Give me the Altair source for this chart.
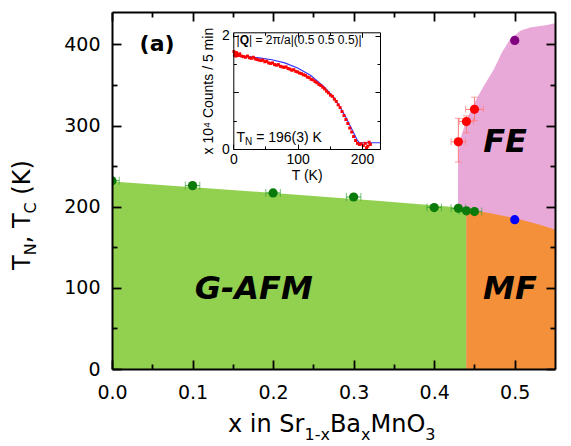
import altair as alt
import pandas as pd

# ---------------- main phase-diagram data ----------------
afm_x = [0.0, 0.1, 0.2, 0.3, 0.4, 0.43, 0.44, 0.45]
afm_T = [232, 226, 217, 212, 199, 198, 195, 194]
afm_xerr = [0.009, 0.009, 0.009, 0.009, 0.009, 0.009, 0.009, 0.009]

fe_x = [0.43, 0.44, 0.45]
fe_T = [280, 305, 320]
fe_Tlo = [255, 291, 306]
fe_Thi = [309, 312, 335]
fe_xerr = [0.009, 0.009, 0.011]

mf_x = [0.5]
mf_T = [184]
feh_x = [0.5]
feh_T = [405]

green_x = [0.0, 0.2, 0.333, 0.42, 0.44]
green_top = [231, 217, 207, 200, 196]
orange_x = [0.44, 0.47, 0.5, 0.53, 0.55]
orange_top = [197, 192, 186, 178, 172]
pink_x = [0.4295, 0.4296, 0.432, 0.44, 0.451, 0.461, 0.474, 0.484, 0.494, 0.507, 0.519, 0.54, 0.55]
pink_top = [150, 258, 282, 307, 330, 348, 369, 390, 406, 417, 421, 424, 426]

region_names = ["G-AFM", "MF", "FE"]
region_x = [0.176, 0.494, 0.488]
region_y = [99, 99, 280]

x_ticks = [0.0, 0.1, 0.2, 0.3, 0.4, 0.5]
x_minor = [0.05, 0.15, 0.25, 0.35, 0.45]
y_ticks = [0, 100, 200, 300, 400]
y_minor = [50, 150, 250, 350]

# ---------------- inset data ----------------
ins_T = [1, 2, 3, 4, 5, 6, 8, 10, 13, 16, 19, 22, 25, 28, 31, 34, 37, 40, 43, 46, 49, 52, 55, 58,
         61, 64, 67, 70, 73, 76, 79, 82, 85, 88, 91, 94, 97, 100, 103, 106, 109, 112, 115, 118,
         121, 124, 127, 130, 133, 136, 139, 142, 145, 148, 151, 154, 157, 160, 163, 166, 169,
         172, 175, 178, 181, 184, 187, 190, 193, 196, 199, 202, 205, 207, 209, 211, 213]
ins_I = [1.72, 1.66, 1.69, 1.64, 1.70, 1.67, 1.65, 1.68, 1.64, 1.63, 1.62, 1.64, 1.61, 1.60, 1.62,
         1.59, 1.58, 1.57, 1.56, 1.57, 1.54, 1.55, 1.52, 1.51, 1.52, 1.49, 1.48, 1.49, 1.46, 1.45,
         1.44, 1.45, 1.42, 1.41, 1.39, 1.40, 1.37, 1.36, 1.34, 1.33, 1.31, 1.30, 1.27, 1.26, 1.23,
         1.22, 1.19, 1.17, 1.14, 1.12, 1.09, 1.06, 1.02, 0.99, 0.95, 0.93, 0.88, 0.84, 0.78, 0.73,
         0.66, 0.59, 0.52, 0.45, 0.37, 0.30, 0.22, 0.15, 0.10, 0.08, 0.09, 0.06, 0.10, 0.02, 0.05,
         0.12, 0.08]
fit_T = [0, 20, 40, 60, 80, 100, 120, 140, 155, 165, 175, 185, 192, 196, 228]
fit_I = [1.64, 1.635, 1.61, 1.575, 1.52, 1.43, 1.30, 1.11, 0.93, 0.76, 0.56, 0.33, 0.17, 0.11, 0.11]
ins_x_ticks = [0, 100, 200]
ins_x_minor = [50, 150]
ins_y_ticks = [0, 1, 2]
ins_y_minor = [0.5, 1.5]

# ---------------- layout / style ----------------
W, H = 443, 357
PINK, GREEN, ORANGE = "#e9a9d8", "#92d050", "#f4903a"
MAINF = "DejaVu Sans"
INSF = "Liberation Sans"

xs = alt.Scale(domain=[0, 0.55], nice=False, zero=False)
ys = alt.Scale(domain=[0, 440], nice=False, zero=False)
IX0, IX1, IYB, IYT = 121.3, 268, 137, 20.3
ixs = alt.Scale(domain=[0, 228], range=[IX0, IX1], nice=False, zero=False)
iys = alt.Scale(domain=[0, 2.06], range=[IYB, IYT], nice=False, zero=False)


def X(f, s=xs):
    return alt.X(f, scale=s, axis=None, title=None)


def Y(f, s=ys):
    return alt.Y(f, scale=s, axis=None, title=None)


layers = []

# regions
layers.append(alt.Chart(pd.DataFrame({"x": pink_x, "T": pink_top})).mark_area(color=PINK, clip=True)
              .encode(x=X("x:Q"), y=Y("T:Q"), y2=alt.datum(0)))
layers.append(alt.Chart(pd.DataFrame({"x": green_x, "T": green_top})).mark_area(color=GREEN, clip=True)
              .encode(x=X("x:Q"), y=Y("T:Q"), y2=alt.datum(0)))
layers.append(alt.Chart(pd.DataFrame({"x": orange_x, "T": orange_top})).mark_area(color=ORANGE, clip=True)
              .encode(x=X("x:Q"), y=Y("T:Q"), y2=alt.datum(0)))

# AFM points with horizontal error bars
afm = pd.DataFrame({"x": afm_x, "T": afm_T,
                    "xlo": [a - e for a, e in zip(afm_x, afm_xerr)],
                    "xhi": [a + e for a, e in zip(afm_x, afm_xerr)]})
EG = "#3aa63a"
layers.append(alt.Chart(afm).mark_rule(color=EG, strokeWidth=1, clip=True)
              .encode(x=X("xlo:Q"), x2="xhi:Q", y=Y("T:Q")))
for col in ["xlo", "xhi"]:
    layers.append(alt.Chart(afm).mark_tick(color=EG, orient="vertical", size=8, thickness=1, clip=True)
                  .encode(x=X(col + ":Q"), y=Y("T:Q")))
layers.append(alt.Chart(afm).mark_circle(color="#0a7a0a", size=85, opacity=1, clip=True)
              .encode(x=X("x:Q"), y=Y("T:Q")))

# FE points with error bars
fe = pd.DataFrame({"x": fe_x, "T": fe_T, "Tlo": fe_Tlo, "Thi": fe_Thi,
                   "xlo": [a - e for a, e in zip(fe_x, fe_xerr)],
                   "xhi": [a + e for a, e in zip(fe_x, fe_xerr)]})
ER = "#ff7a7a"
layers.append(alt.Chart(fe).mark_rule(color=ER, strokeWidth=1)
              .encode(x=X("xlo:Q"), x2="xhi:Q", y=Y("T:Q")))
layers.append(alt.Chart(fe).mark_rule(color=ER, strokeWidth=1)
              .encode(x=X("x:Q"), y=Y("Tlo:Q"), y2="Thi:Q"))
for col in ["xlo", "xhi"]:
    layers.append(alt.Chart(fe).mark_tick(color=ER, orient="vertical", size=7, thickness=1)
                  .encode(x=X(col + ":Q"), y=Y("T:Q")))
for col in ["Tlo", "Thi"]:
    layers.append(alt.Chart(fe).mark_tick(color=ER, orient="horizontal", size=7, thickness=1)
                  .encode(x=X("x:Q"), y=Y(col + ":Q")))
layers.append(alt.Chart(fe).mark_circle(color="#ff0000", size=85, opacity=1)
              .encode(x=X("x:Q"), y=Y("T:Q")))
layers.append(alt.Chart(pd.DataFrame({"x": mf_x, "T": mf_T})).mark_circle(color="#0000ff", size=85, opacity=1)
              .encode(x=X("x:Q"), y=Y("T:Q")))
layers.append(alt.Chart(pd.DataFrame({"x": feh_x, "T": feh_T})).mark_circle(color="#800080", size=85, opacity=1)
              .encode(x=X("x:Q"), y=Y("T:Q")))

# region labels
layers.append(alt.Chart(pd.DataFrame({"x": region_x, "T": region_y, "t": region_names}))
              .mark_text(font=MAINF, fontSize=32, fontWeight="bold", fontStyle="italic", color="black",
                         align="center", baseline="middle")
              .encode(x=X("x:Q"), y=Y("T:Q"), text="t:N"))
layers.append(alt.Chart(pd.DataFrame({"x": [0.056], "T": [400], "t": ["(a)"]}))
              .mark_text(font=MAINF, fontSize=22, fontWeight="bold", color="black",
                         align="center", baseline="middle")
              .encode(x=X("x:Q"), y=Y("T:Q"), text="t:N"))

# ---------------- inset ----------------
layers.append(alt.Chart(pd.DataFrame({"T": fit_T, "I": fit_I})).mark_line(color="#3333ff", strokeWidth=1.2)
              .encode(x=X("T:Q", ixs), y=Y("I:Q", iys)))
layers.append(alt.Chart(pd.DataFrame({"T": ins_T, "I": ins_I})).mark_square(color="#ff0000", size=9, opacity=1)
              .encode(x=X("T:Q", ixs), y=Y("I:Q", iys)))

# text made of pieces (sub/superscripts, bold letters)
DJ = {" ": .318, "(": .390, ")": .390, ",": .318, "T": .611, "N": .748, "C": .698,
      "K": .656, "x": .592, "i": .278, "n": .634, "S": .635, "r": .411, "1": .636, "-": .361,
      "B": .686, "a": .613, "M": .863, "O": .787, "3": .636}
AR = {" ": .278, "T": .611, "N": .722, "=": .584, "(": .333, ")": .333, "K": .667,
      "|": .26, "Q": .778, "1": .556, "9": .556, "6": .556, "3": .556}


def width(s, size, table):
    return sum(table.get(c, 0.6) for c in s) * size


def piece_layers(items, x0, y0, font, table, rotate=False, data_pos=None):
    out = []
    cum = 0.0
    for text, size, shift, weight in items:
        lead = len(text) - len(text.lstrip(" "))
        cum += width(" " * lead, size, table)
        text = text.lstrip(" ")
        if data_pos is None:
            if rotate:
                enc = dict(x=alt.value(x0 + shift), y=alt.value(y0 - cum))
            else:
                enc = dict(x=alt.value(x0 + cum), y=alt.value(y0 + shift))
            mk = alt.Chart(pd.DataFrame({"k": [0]})).mark_text(
                text=text, font=font, fontSize=size, fontWeight=weight, color="black",
                align="left", baseline="alphabetic", angle=270 if rotate else 0)
            out.append(mk.encode(**enc))
        else:
            sx, sy, dxv, dyv = data_pos
            mk = alt.Chart(pd.DataFrame({"T": [dxv], "I": [dyv]})).mark_text(
                text=text, font=font, fontSize=size, fontWeight=weight, color="black",
                align="left", baseline="alphabetic", dx=cum, dy=shift)
            out.append(mk.encode(x=X("T:Q", sx), y=Y("I:Q", sy)))
        cum += width(text, size, table)
    return out


layers += piece_layers([("|", 12, 0, "normal"), ("Q", 12, 0, "bold"),
                        ("| = 2π/a|(0.5 0.5 0.5)|", 12, 0, "normal")],
                       0, 0, INSF, AR, data_pos=(ixs, iys, 5, 1.86))
layers += piece_layers([("T", 14, 0, "normal"), ("N", 10, 3, "normal"),
                        (" = 196(3) K", 14, 0, "normal")],
                       0, 0, INSF, AR, data_pos=(ixs, iys, 5, 0.13))

# main axis titles (with subscripts)
layers += piece_layers([("x in Sr", 24, 0, "normal"), ("1-x", 16, 8, "normal"), ("Ba", 24, 0, "normal"),
                        ("x", 16, 8, "normal"), ("MnO", 24, 0, "normal"), ("3", 16, 8, "normal")],
                       116, 420, MAINF, DJ)
layers += piece_layers([("T", 24, 0, "normal"), ("N", 16, 6, "normal"), (",", 24, 0, "normal"),
                        (" T", 24, 0, "normal"), ("C", 16, 6, "normal"),
                        (" (K)", 24, 0, "normal")],
                       -82, 258, MAINF, DJ, rotate=True)


# ---------------- axes ----------------
def axis_layer(ch, scale, values, title=None, **kw):
    d = pd.DataFrame({"v": [values[0]]})
    ax = alt.Axis(values=values, grid=False, zindex=1, **kw)
    if ch == "x":
        enc = dict(x=alt.X("v:Q", scale=scale, axis=ax, title=title))
    else:
        enc = dict(y=alt.Y("v:Q", scale=scale, axis=ax, title=title))
    return alt.Chart(d).mark_point(opacity=0).encode(**enc)


def tick_axes(ch, scale, major, minor, orient, offset, big, small, tw, dw):
    return [
        axis_layer(ch, scale, major, orient=orient, offset=offset, labels=False, ticks=True,
                   tickSize=big, tickWidth=tw, tickColor="black", domain=True,
                   domainColor="black", domainWidth=dw),
        axis_layer(ch, scale, minor, orient=orient, offset=offset, labels=False, ticks=True,
                   tickSize=small, tickWidth=tw, tickColor="black", domain=False),
    ]


# main labelled axes
layers.append(axis_layer("x", xs, x_ticks, orient="bottom", ticks=False, domain=False, format=".1f",
                         labelFlush=False, labelOverlap=False,
                         labelFont=MAINF, labelFontSize=19, labelColor="black", labelPadding=14))
layers.append(axis_layer("y", ys, y_ticks, orient="left", ticks=False, domain=False, format="d",
                         labelFlush=False, labelOverlap=False,
                         labelFont=MAINF, labelFontSize=19, labelColor="black", labelPadding=12))
# main frame with inward ticks
layers += tick_axes("x", xs, x_ticks, x_minor, "top", -H, 9, 5, 1.8, 2)
layers += tick_axes("x", xs, x_ticks, x_minor, "bottom", -H, 9, 5, 1.8, 2)
layers += tick_axes("y", ys, y_ticks, y_minor, "right", -W, 9, 5, 1.8, 2)
layers += tick_axes("y", ys, y_ticks, y_minor, "left", -W, 9, 5, 1.8, 2)

# inset labelled axes
layers.append(axis_layer("x", ixs, ins_x_ticks, title="T (K)", orient="bottom", offset=-(H - IYB),
                         ticks=False, domain=False, format="d", labelFlush=False, labelOverlap=False,
                         labelFont=INSF, labelFontSize=14,
                         labelColor="black", labelPadding=3, titleFont=INSF, titleFontSize=14,
                         titleFontWeight="normal", titleColor="black", titlePadding=2))
layers.append(axis_layer("y", iys, ins_y_ticks, title="x 10⁴ Counts / 5 min", orient="left",
                         offset=-IX0, ticks=False, domain=False, format="d", labelFlush=False,
                         labelOverlap=False, labelFont=INSF, labelFontSize=14,
                         labelColor="black", labelPadding=4, titleFont=INSF, titleFontSize=14,
                         titleFontWeight="normal", titleColor="black", titlePadding=6))
# inset frame with inward ticks
layers += tick_axes("x", ixs, ins_x_ticks, ins_x_minor, "top", -IYB, 5, 3, 1, 1)
layers += tick_axes("x", ixs, ins_x_ticks, ins_x_minor, "bottom", IYT - H, 5, 3, 1, 1)
layers += tick_axes("y", iys, ins_y_ticks, ins_y_minor, "right", IX0 - W, 5, 3, 1, 1)
layers += tick_axes("y", iys, ins_y_ticks, ins_y_minor, "left", -IX1, 5, 3, 1, 1)

chart = (alt.layer(*layers)
         .resolve_scale(x="independent", y="independent")
         .properties(width=W, height=H, autosize=alt.AutoSizeParams(type="none"),
                     padding={"left": 104, "top": 4, "right": 8, "bottom": 76},
                     background="white")
         .configure_view(stroke="transparent")
         .configure_axis(grid=False))

chart.save("out.html", embed_options={"renderer": "svg", "actions": False})
